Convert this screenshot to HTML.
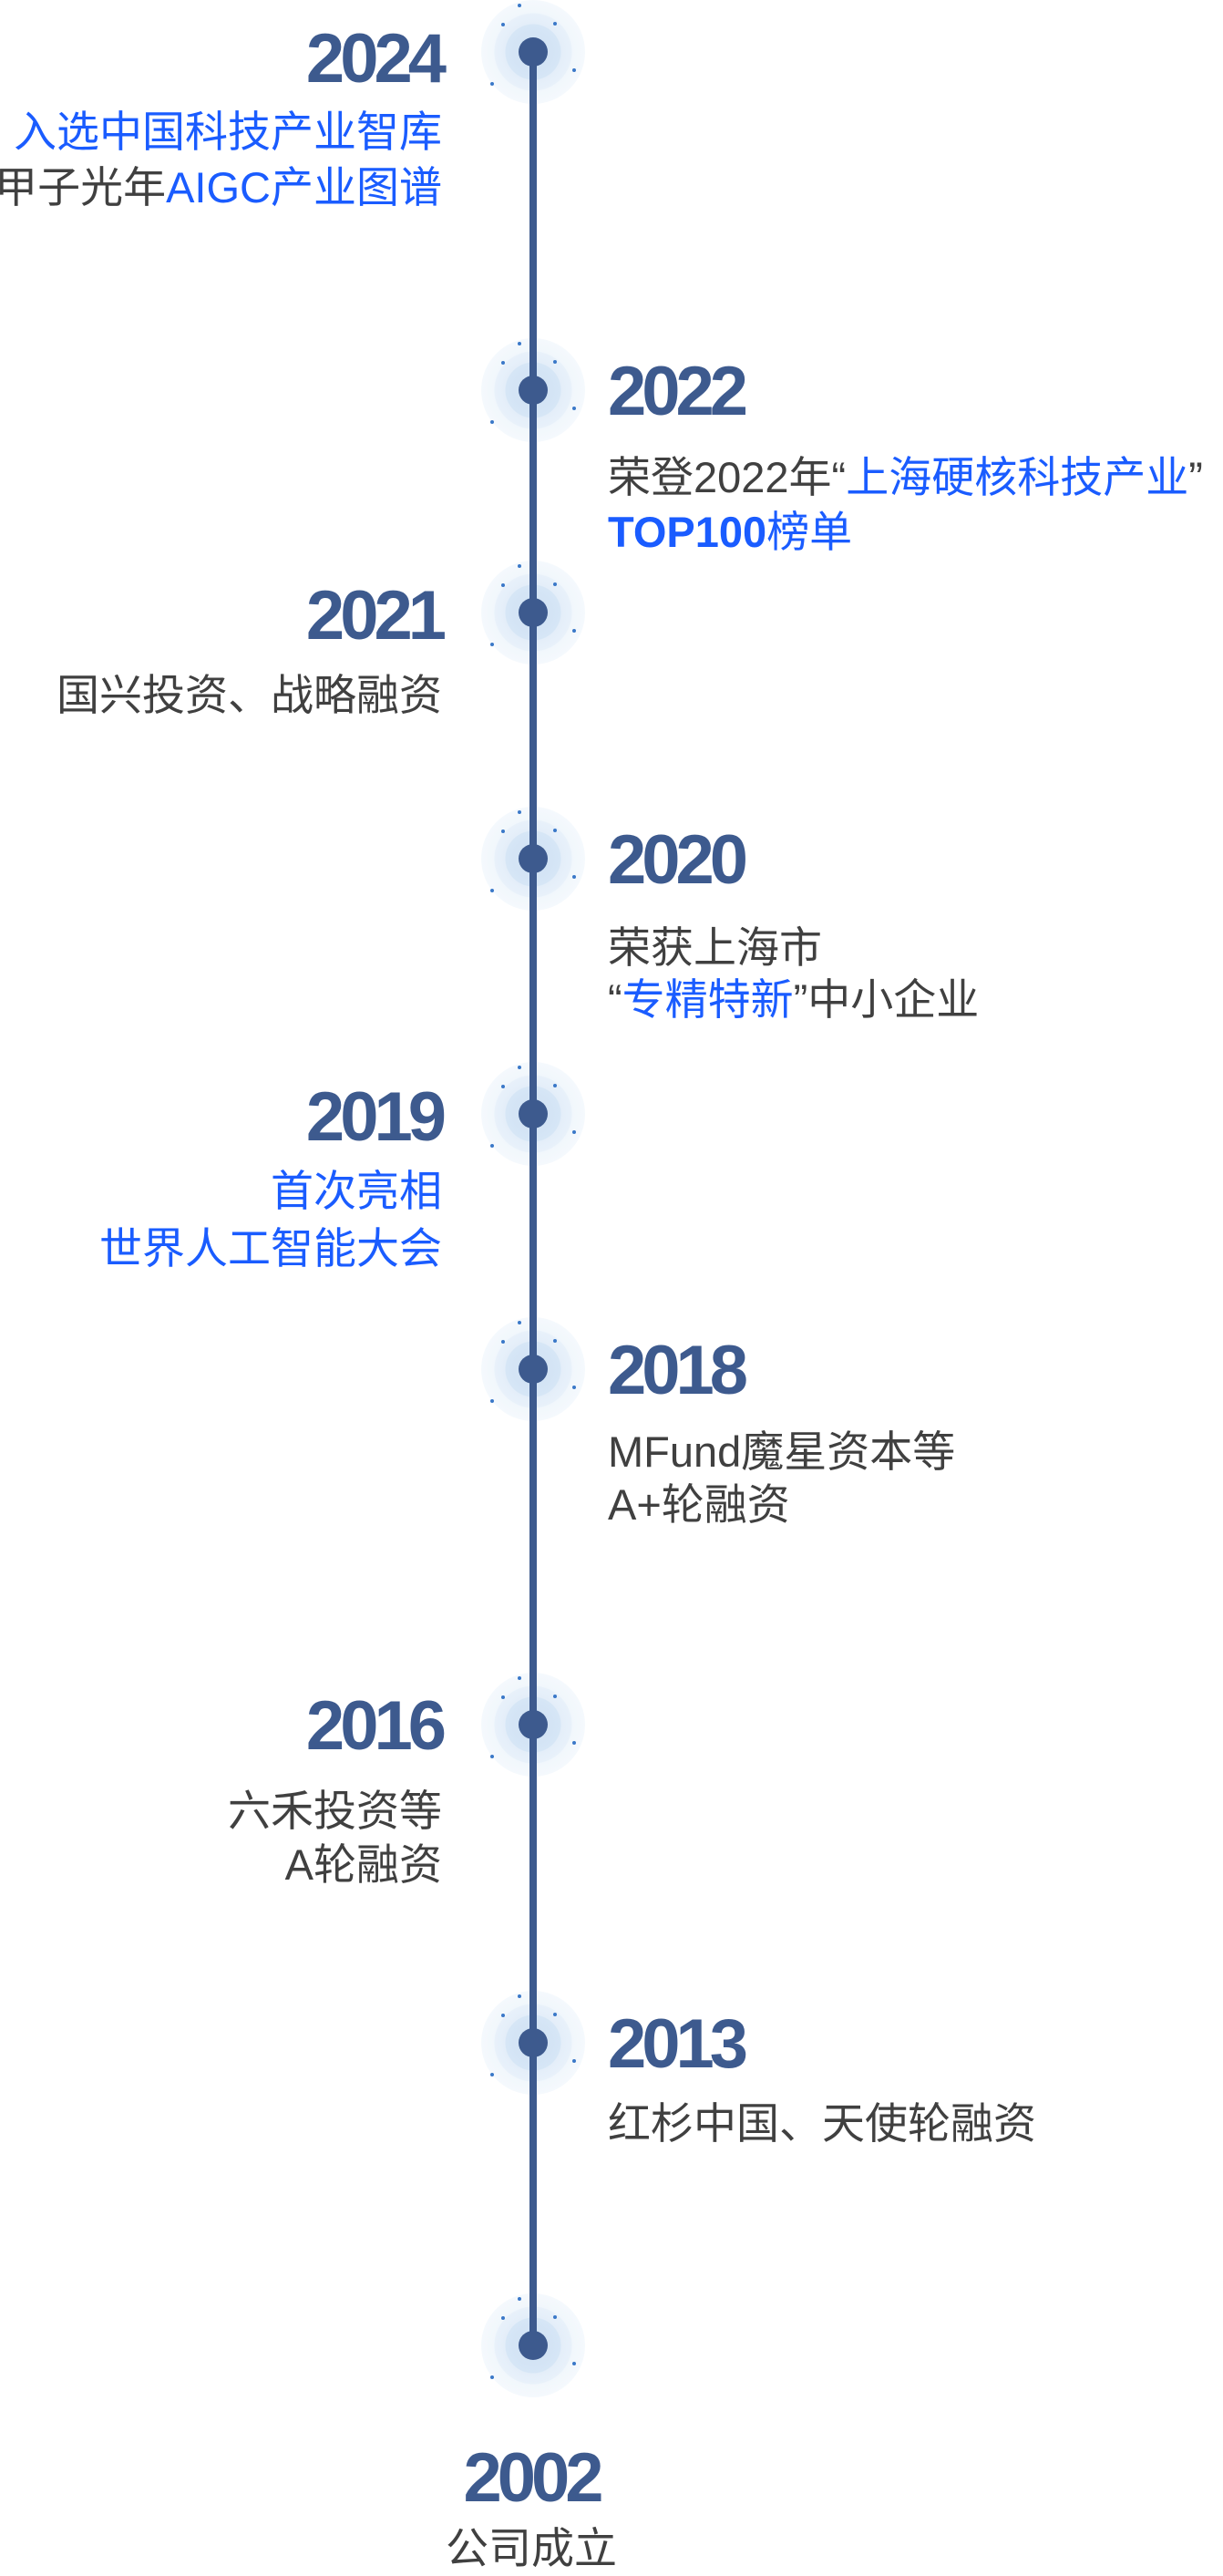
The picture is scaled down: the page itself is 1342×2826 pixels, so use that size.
<!DOCTYPE html>
<html><head><meta charset="utf-8">
<style>
html,body{margin:0;padding:0;background:#fff;}
body{width:1342px;height:2816px;position:relative;overflow:hidden;font-family:"Liberation Sans","Noto Sans CJK SC",sans-serif;}
.line{position:absolute;left:581px;width:8px;background:#3d5a8e;top:57px;height:2516px;z-index:1;}
.node{position:absolute;width:114px;height:114px;margin-left:-57px;margin-top:-57px;left:585px;border-radius:50%;z-index:0;
 background:radial-gradient(circle,#cfe0f3 0,#d6e6f6 30px,#e4eef9 31px,#e8f1fa 42px,#f1f7fc 43px,#f5f9fd 57px,rgba(255,255,255,0) 58px);}
.node i{position:absolute;width:4px;height:4px;border-radius:50%;background:#3a78c8;}
.dot{position:absolute;left:569px;width:32px;height:32px;margin-top:-16px;border-radius:50%;background:#3d5a8e;z-index:2;}
.y{position:absolute;font-weight:bold;font-size:76px;line-height:74px;color:#3d5a8e;letter-spacing:-5px;}
.t{position:absolute;font-size:47px;line-height:60px;color:#404040;white-space:nowrap;}
.L{right:857px;text-align:right;}
.R{left:667px;}
.b{color:#1a5cff;}
</style></head><body>
<div class="line"></div>

<div class="node" style="top:57px"><i style="left:22px;top:25px"></i><i style="left:79px;top:24px"></i><i style="left:10px;top:90px"></i><i style="left:100px;top:75px"></i><i style="left:40px;top:4px"></i></div>
<div class="node" style="top:428px"><i style="left:22px;top:25px"></i><i style="left:79px;top:24px"></i><i style="left:10px;top:90px"></i><i style="left:100px;top:75px"></i><i style="left:40px;top:4px"></i></div>
<div class="node" style="top:672px"><i style="left:22px;top:25px"></i><i style="left:79px;top:24px"></i><i style="left:10px;top:90px"></i><i style="left:100px;top:75px"></i><i style="left:40px;top:4px"></i></div>
<div class="node" style="top:942px"><i style="left:22px;top:25px"></i><i style="left:79px;top:24px"></i><i style="left:10px;top:90px"></i><i style="left:100px;top:75px"></i><i style="left:40px;top:4px"></i></div>
<div class="node" style="top:1222px"><i style="left:22px;top:25px"></i><i style="left:79px;top:24px"></i><i style="left:10px;top:90px"></i><i style="left:100px;top:75px"></i><i style="left:40px;top:4px"></i></div>
<div class="node" style="top:1502px"><i style="left:22px;top:25px"></i><i style="left:79px;top:24px"></i><i style="left:10px;top:90px"></i><i style="left:100px;top:75px"></i><i style="left:40px;top:4px"></i></div>
<div class="node" style="top:1892px"><i style="left:22px;top:25px"></i><i style="left:79px;top:24px"></i><i style="left:10px;top:90px"></i><i style="left:100px;top:75px"></i><i style="left:40px;top:4px"></i></div>
<div class="node" style="top:2241px"><i style="left:22px;top:25px"></i><i style="left:79px;top:24px"></i><i style="left:10px;top:90px"></i><i style="left:100px;top:75px"></i><i style="left:40px;top:4px"></i></div>
<div class="node" style="top:2573px"><i style="left:22px;top:25px"></i><i style="left:79px;top:24px"></i><i style="left:10px;top:90px"></i><i style="left:100px;top:75px"></i><i style="left:40px;top:4px"></i></div>

<div class="dot" style="top:57px"></div>
<div class="dot" style="top:428px"></div>
<div class="dot" style="top:672px"></div>
<div class="dot" style="top:942px"></div>
<div class="dot" style="top:1222px"></div>
<div class="dot" style="top:1502px"></div>
<div class="dot" style="top:1892px"></div>
<div class="dot" style="top:2241px"></div>
<div class="dot" style="top:2573px"></div>

<!-- 2024 -->
<div class="y L" style="top:28px">2024</div>
<div class="t L b" style="top:115px">入选中国科技产业智库</div>
<div class="t L" style="top:176px">甲子光年<span class="b">AIGC产业图谱</span></div>

<!-- 2022 -->
<div class="y R" style="top:393px">2022</div>
<div class="t R" style="top:494px">荣登2022年“<span class="b">上海硬核科技产业</span>”</div>
<div class="t R b" style="top:554px;font-weight:bold">TOP100<span style="font-weight:normal">榜单</span></div>

<!-- 2021 -->
<div class="y L" style="top:639px">2021</div>
<div class="t L" style="top:733px">国兴投资、战略融资</div>

<!-- 2020 -->
<div class="y R" style="top:907px">2020</div>
<div class="t R" style="top:1010px">荣获上海市</div>
<div class="t R" style="top:1067px">“<span class="b">专精特新</span>”中小企业</div>

<!-- 2019 -->
<div class="y L" style="top:1189px">2019</div>
<div class="t L b" style="top:1277px">首次亮相</div>
<div class="t L b" style="top:1340px">世界人工智能大会</div>

<!-- 2018 -->
<div class="y R" style="top:1467px">2018</div>
<div class="t R" style="top:1563px">MFund魔星资本等</div>
<div class="t R" style="top:1621px">A+轮融资</div>

<!-- 2016 -->
<div class="y L" style="top:1857px">2016</div>
<div class="t L" style="top:1957px">六禾投资等</div>
<div class="t L" style="top:2016px">A轮融资</div>

<!-- 2013 -->
<div class="y R" style="top:2206px">2013</div>
<div class="t R" style="top:2300px">红杉中国、天使轮融资</div>

<!-- 2002 -->
<div class="y" style="top:2682px;left:433px;width:300px;text-align:center">2002</div>
<div class="t" style="top:2766px;left:433px;width:300px;text-align:center">公司成立</div>
</body></html>
